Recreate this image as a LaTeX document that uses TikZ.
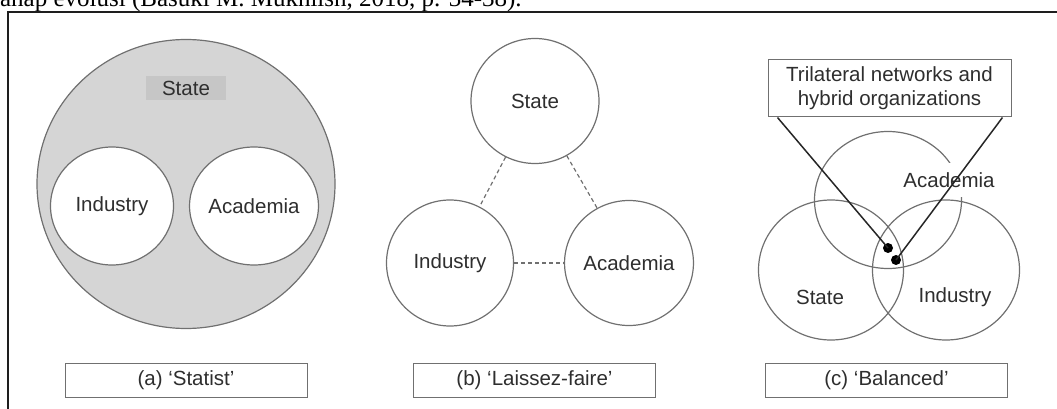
\documentclass[tikz,border=0pt]{standalone}
\usepackage{fontspec}
\setmainfont{Liberation Sans}
\newfontfamily\bodyserif{Liberation Serif}
\usetikzlibrary{shapes.geometric,calc}

\definecolor{inkgray}{HTML}{2E2E2E}
\definecolor{linegray}{HTML}{707070}
\definecolor{fillgray}{HTML}{D5D5D5}
\definecolor{tagfill}{HTML}{C6C6C6}
\definecolor{framecol}{HTML}{1E1E1E}

\tikzset{
  labelfont/.style={font=\fontsize{20.5}{23}\selectfont},
  ring/.style={ellipse, draw=linegray, line width=1.2pt, inner sep=0pt,
               text=inkgray, labelfont},
  wordlabel/.style={inner sep=1pt, text=inkgray, labelfont},
  capbox/.style={rectangle, draw=linegray, line width=1pt, fill=white,
                 minimum width=242pt, minimum height=34pt, inner sep=0pt,
                 text=inkgray, labelfont},
  linkdash/.style={draw=linegray, line width=1.2pt, dash pattern=on 4pt off 3pt},
  pointer/.style={draw=black!85, line width=1.5pt},
  blackdot/.style={circle, fill=black, minimum size=10pt, inner sep=0pt},
}

\begin{document}
\begin{tikzpicture}[x=1pt,y=-1pt]
\useasboundingbox (0,0) rectangle (1057,409);
\clip (0,0) rectangle (1057,409);

% running text line above the frame
\node[anchor=base west, inner sep=0pt, font=\bodyserif\fontsize{25}{28}\selectfont]
  (runtext) at (-7,7) {tahap evolusi (Basuki M. Mukhlish, 2018, p. 34-38).};

% frame
\coordinate (fbl) at (8,412);
\coordinate (ftl) at (8,12);
\coordinate (ftr) at (1060,12);
\draw[framecol, line width=1.8pt] (fbl) -- (ftl) -- (ftr);

% ---------- (a) Statist ----------
\node[ring, fill=fillgray, minimum width=298pt, minimum height=289pt] (astate) at (186,184) {};
\node[rectangle, fill=tagfill, minimum width=80pt, minimum height=24pt, inner sep=0pt,
      text=inkgray, labelfont] (astatelbl) at (186,88) {State};
\node[ring, fill=white, minimum width=123pt, minimum height=118pt] (aind) at (112,206) {Industry};
\node[ring, fill=white, minimum width=123pt, minimum height=118pt] (aacad) at (254,206) {Academia};
\node[capbox] (acap) at (186,380) {(a) `Statist'};

% ---------- (b) Laissez-faire ----------
\node[ring, minimum width=128pt, minimum height=125pt] (bstate) at (535,101) {State};
\node[ring, minimum width=127pt, minimum height=126pt] (bind) at (450,263) {Industry};
\node[ring, minimum width=128pt, minimum height=125pt] (bacad) at (629,263) {Academia};
\draw[linkdash] (bstate) -- (bind);
\draw[linkdash] (bstate) -- (bacad);
\draw[linkdash] (bind) -- (bacad);
\node[capbox] (bcap) at (534.5,380) {(b) `Laissez-faire'};

% ---------- (c) Balanced ----------
\node[ring, minimum width=147pt, minimum height=137pt] (cacad) at (888,200) {};
\node[ring, minimum width=145pt, minimum height=140pt] (cstate) at (831,270) {};
\node[ring, minimum width=147pt, minimum height=140pt] (cind) at (946,270) {};
\node[wordlabel, fill=white, minimum height=34pt] (cacadlbl) at (949,180) {Academia};
\node[wordlabel] (cstatelbl) at (820,297) {State};
\node[wordlabel] (cindlbl) at (955,297) {Industry};
\node[rectangle, draw=linegray, line width=1pt, fill=white, minimum width=243pt,
      minimum height=57pt, inner sep=0pt, align=center, text=inkgray,
      font=\fontsize{20.5}{24}\selectfont] (hybrid) at (889.5,88.5)
      {Trilateral networks and\\hybrid organizations};
\node[blackdot] (dotone) at (888,248) {};
\node[blackdot] (dottwo) at (896,260) {};
\draw[pointer] ($(hybrid.south west)!0.041!(hybrid.south east)$) -- (dotone.center);
\draw[pointer] ($(hybrid.south west)!0.963!(hybrid.south east)$) -- (dottwo.center);
\node[capbox] (ccap) at (886.5,380) {(c) `Balanced'};
\end{tikzpicture}
\end{document}
